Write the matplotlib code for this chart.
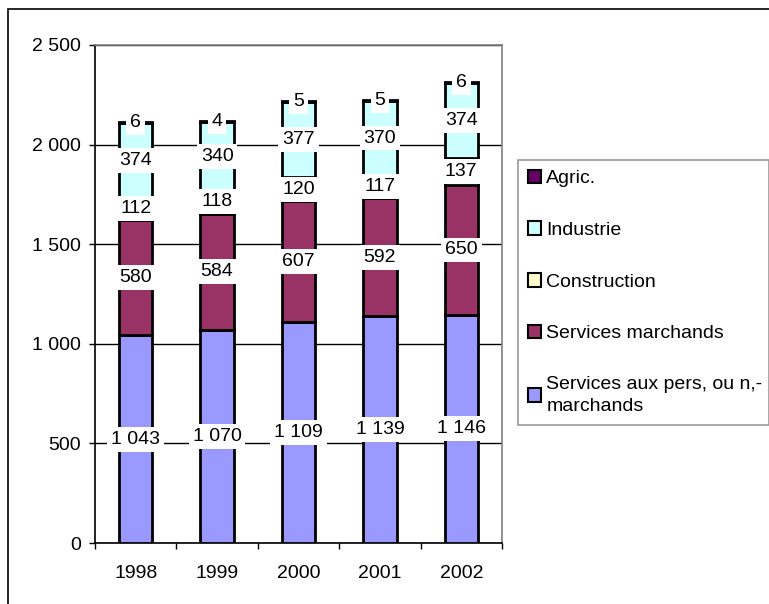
import matplotlib
matplotlib.use("Agg")
import matplotlib.pyplot as plt
from matplotlib.patches import Rectangle
import numpy as np

#Data
years = ["1998", "1999", "2000", "2001", "2002"]
serv_pers = [1043, 1070, 1109, 1139, 1146]
serv_march = [580, 584, 607, 592, 650]
construction = [112, 118, 120, 117, 137]
industrie = [374, 340, 377, 370, 374]
agric = [6, 4, 5, 5, 6]

series_names = ["Services aux pers, ou n,-\nmarchands", "Services marchands",
                "Construction", "Industrie", "Agric."]
series_colors = ["#9999FF", "#993366", "#FFFFCC", "#CCFFFF", "#660066"]
yticks = [0, 500, 1000, 1500, 2000, 2500]

plt.rcParams['font.family'] = ['Liberation Sans', 'DejaVu Sans']
FS = 14

def fmt(v):
    return f"{v:,}".replace(",", " ")

fig = plt.figure(figsize=(7.69, 6.04), dpi=100)
ax = fig.add_axes([95/769, 1-543/604, 407/769, 498/604])

x = np.arange(len(years))
bottom = np.zeros(len(years))
handles = []
for vals, name, col in zip([serv_pers, serv_march, construction, industrie, agric],
                           series_names, series_colors):
    bars = ax.bar(x, vals, width=0.41, bottom=bottom, color=col,
                  edgecolor="black", linewidth=2.0, label=name, zorder=3)
    handles.append(bars)
    #White box labels in the middle of each segment
    for xi, b, v in zip(x, bottom, vals):
        ax.text(xi, b + v/2, fmt(v), ha="center", va="center", fontsize=FS,
                zorder=5, bbox=dict(boxstyle="square,pad=0.2", fc="white", ec="none"))
    bottom += np.array(vals)

ax.set_xlim(-0.5, len(years) - 0.5)
ax.set_ylim(0, 2500)
ax.set_yticks(yticks)
ax.set_yticklabels([fmt(v) for v in yticks], fontsize=FS)
ax.tick_params(axis="y", direction="out", length=6*0.72, width=1, pad=6)
ax.yaxis.grid(True, color="black", linewidth=1, zorder=0)
ax.set_axisbelow(True)

#Ticks between categories, labels at the centre
ax.set_xticks(np.arange(len(years) + 1) - 0.5)
ax.set_xticklabels([])
ax.set_xticks(x, minor=True)
ax.set_xticklabels(years, minor=True, fontsize=FS)
ax.tick_params(axis="x", which="major", direction="out", length=6*0.72, width=1)
ax.tick_params(axis="x", which="minor", length=0, pad=16)

for s in ["left", "bottom"]:
    ax.spines[s].set_color("black")
    ax.spines[s].set_linewidth(1.2)
for s in ["top", "right"]:
    ax.spines[s].set_color("#808080")
    ax.spines[s].set_linewidth(1.2)

#Legend, top series first
leg = fig.legend(handles[::-1], series_names[::-1], loc="upper left",
                 bbox_to_anchor=(518/769, 1-160/604 - 0.01, 251/769, 0.01), mode="expand",
                 borderaxespad=0, fontsize=FS, frameon=True, fancybox=False,
                 handlelength=0.7, handleheight=0.7, handletextpad=0.25,
                 labelspacing=1.75, borderpad=0.5)
leg.get_frame().set_edgecolor("#808080")
leg.get_frame().set_linewidth(1.2)
for h in leg.legend_handles:
    h.set_linewidth(1.5)
for t in leg.get_texts():
    t.set_linespacing(1.35)

#Outer chart border (runs off the right and bottom edge)
fig.patches.append(Rectangle((8/769, -0.1), 1.2, 1 - 9/604 + 0.1, transform=fig.transFigure,
                             fill=False, edgecolor="black", linewidth=1.2))

fig.savefig("out.png", dpi=100)
